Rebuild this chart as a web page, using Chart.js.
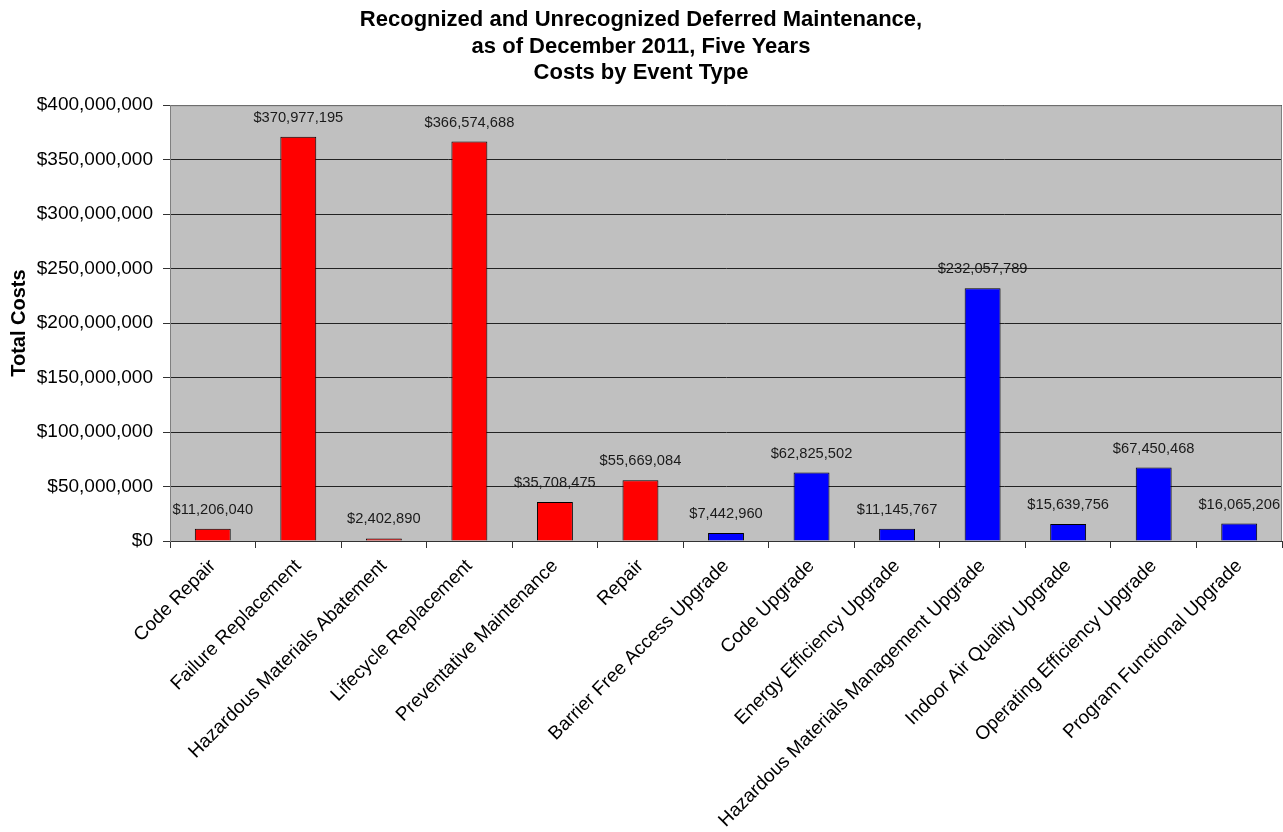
<!DOCTYPE html>
<html>
<head>
<meta charset="utf-8">
<script src="https://cdn.jsdelivr.net/npm/chart.js@4.4.1/dist/chart.umd.min.js"></script>
<style>
  html, body { margin: 0; padding: 0; background: #ffffff; }
  #wrap { width: 1283px; height: 832px; position: relative; }
</style>
</head>
<body>
<div id="wrap"><canvas id="c"></canvas></div>
<script>
const categories = [
  "Code Repair",
  "Failure Replacement",
  "Hazardous Materials Abatement",
  "Lifecycle Replacement",
  "Preventative Maintenance",
  "Repair",
  "Barrier Free Access Upgrade",
  "Code Upgrade",
  "Energy Efficiency Upgrade",
  "Hazardous Materials Management Upgrade",
  "Indoor Air Quality Upgrade",
  "Operating Efficiency Upgrade",
  "Program Functional Upgrade"
];
const totalCosts = [
  11206040, 370977195, 2402890, 366574688, 35708475, 55669084,
  7442960, 62825502, 11145767, 232057789, 15639756, 67450468, 16065206
];
const eventGroup = ["repair","repair","repair","repair","repair","repair",
  "upgrade","upgrade","upgrade","upgrade","upgrade","upgrade","upgrade"];
const titleLines = [
  "Recognized and Unrecognized Deferred Maintenance,",
  "as of December 2011, Five Years",
  "Costs by Event Type"
];
const yAxisTitle = "Total Costs";
const yMax = 400000000;
const yStep = 50000000;

const groupColors = { repair: "#FF0000", upgrade: "#0000FF" };
const FONT = "'Liberation Sans', Arial, sans-serif";
const money = v => "$" + Number(v).toLocaleString("en-US");

const plotBg = {
  id: "plotBg",
  beforeDraw(chart) {
    const a = chart.chartArea, ctx = chart.ctx;
    ctx.save();
    ctx.fillStyle = "#C0C0C0";
    ctx.fillRect(a.left, a.top, a.right - a.left, a.bottom - a.top);
    ctx.restore();
  },
  beforeDatasetsDraw(chart) {
    const a = chart.chartArea, ctx = chart.ctx;
    ctx.save();
    ctx.strokeStyle = "#808080";
    ctx.lineWidth = 1;
    ctx.beginPath();
    ctx.moveTo(a.left + 0.5, a.bottom);
    ctx.lineTo(a.left + 0.5, a.top + 0.5);
    ctx.lineTo(a.right - 0.5, a.top + 0.5);
    ctx.lineTo(a.right - 0.5, a.bottom);
    ctx.stroke();
    ctx.restore();
  }
};

const valueLabels = {
  id: "valueLabels",
  afterDatasetsDraw(chart) {
    const ctx = chart.ctx;
    const meta = chart.getDatasetMeta(0);
    ctx.save();
    ctx.font = "14.7px " + FONT;
    ctx.fillStyle = "#1a1a1a";
    ctx.textAlign = "center";
    ctx.textBaseline = "middle";
    meta.data.forEach((bar, i) => {
      ctx.fillText(money(totalCosts[i]), bar.x, bar.y - 19);
    });
    ctx.restore();
  }
};

new Chart(document.getElementById("c"), {
  type: "bar",
  data: {
    labels: categories,
    datasets: [{
      data: totalCosts,
      backgroundColor: eventGroup.map(g => groupColors[g]),
      borderColor: "#000000",
      borderWidth: 1,
      categoryPercentage: 1.0,
      barPercentage: 0.42
    }]
  },
  options: {
    responsive: true,
    maintainAspectRatio: false,
    animation: false,
    devicePixelRatio: 1,
    layout: { padding: { left: 0, right: 1, top: 0, bottom: 0 } },
    plugins: {
      legend: { display: false },
      tooltip: { enabled: false },
      title: {
        display: true,
        text: titleLines,
        color: "#000000",
        font: { family: FONT, size: 22, weight: "bold", lineHeight: 1.2 },
        padding: { top: 7, bottom: 19 }
      }
    },
    scales: {
      x: {
        afterFit: s => { s.height = 291; },
        grid: {
          offset: true,
          drawOnChartArea: false,
          drawTicks: true,
          tickLength: 7,
          color: "#333333",
          tickColor: "#333333"
        },
        border: { display: true, color: "#333333" },
        ticks: {
          color: "#000000",
          font: { family: FONT, size: 19 },
          minRotation: 45,
          maxRotation: 45,
          autoSkip: false,
          padding: 7
        }
      },
      y: {
        min: 0,
        max: yMax,
        afterFit: s => { s.width = 170; },
        grid: {
          color: "#222222",
          tickColor: "#333333",
          tickLength: 7,
          lineWidth: 1
        },
        border: { display: true, color: "#808080" },
        ticks: {
          stepSize: yStep,
          color: "#000000",
          font: { family: FONT, size: 19 },
          padding: 10,
          callback: v => money(v)
        },
        title: {
          display: true,
          text: yAxisTitle,
          color: "#000000",
          font: { family: FONT, size: 20, weight: "bold" },
          padding: { top: 7, bottom: 0 }
        }
      }
    }
  },
  plugins: [plotBg, valueLabels]
});
</script>
</body>
</html>
